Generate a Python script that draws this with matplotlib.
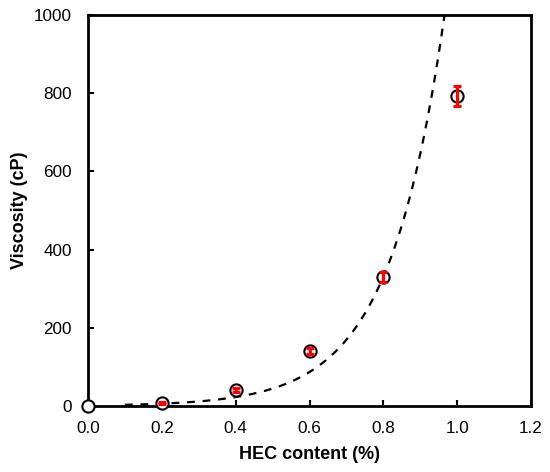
import numpy as np
import matplotlib
matplotlib.use("Agg")
import matplotlib.pyplot as plt

plt.rcParams['font.family'] = ['Liberation Sans', 'DejaVu Sans']

# Data
hec = [0.0, 0.2, 0.4, 0.6, 0.8, 1.0]
viscosity = [0, 8, 40, 140, 330, 793]
viscosity_err = [0, 3, 5, 8, 12, 25]

# Exponential trend line parameters (y = a * exp(b * x))
fit_a = 1.58
fit_b = 6.68
fit_x_start = 0.1
fit_x_end = 1.0

x_ticks = [0.0, 0.2, 0.4, 0.6, 0.8, 1.0, 1.2]
y_ticks = [0, 200, 400, 600, 800, 1000]

fig = plt.figure(figsize=(5.5, 4.72), dpi=100)
ax = fig.add_axes([0.16, 0.1398, 0.8055, 0.8284])

xf = np.linspace(fit_x_start, fit_x_end, 300)
ax.plot(xf, fit_a * np.exp(fit_b * xf), linestyle=(0, (3.5, 3.5)), color='black',
        linewidth=1.6, zorder=2)

ax.plot(hec, viscosity, linestyle='none', marker='o', markersize=8.8,
        markerfacecolor='white', markeredgecolor='black', markeredgewidth=1.5,
        zorder=3, clip_on=False)
ax.errorbar(hec[1:], viscosity[1:], yerr=viscosity_err[1:], fmt='none',
            ecolor='red', elinewidth=2.3, capsize=3.2, capthick=2.3, zorder=4)

ax.set_xlim(0, 1.2)
ax.set_ylim(0, 1000)
ax.set_xticks(x_ticks)
ax.set_xticklabels([f"{t:.1f}" for t in x_ticks])
ax.set_yticks(y_ticks)

for s in ax.spines.values():
    s.set_linewidth(2.0)
ax.tick_params(direction='in', length=4, width=1.5, labelsize=12.3)
ax.tick_params(axis='x', pad=11)
ax.tick_params(axis='y', pad=11.5)

ax.set_xlabel('HEC content (%)', fontsize=13, fontweight='bold', labelpad=7)
ax.set_ylabel('Viscosity (cP)', fontsize=13, fontweight='bold', labelpad=4)

fig.savefig('out.png', dpi=100)
